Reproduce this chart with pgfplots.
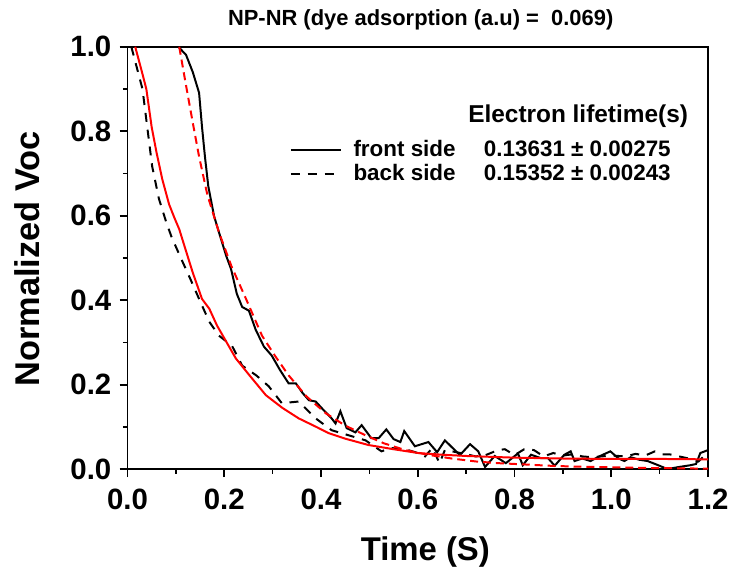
\documentclass[border=0pt]{standalone}
\usepackage{fontspec}
\setmainfont{Liberation Sans}
\usepackage{pgfplots}
\pgfplotsset{compat=1.18}
\begin{document}
\begin{tikzpicture}
\begin{axis}[
  at={(0,0)}, anchor=south west,
  scale only axis, width=583pt, height=424pt,
  xmin=0, xmax=1.2, ymin=0, ymax=1.0,
  xtick={0,0.2,0.4,0.6,0.8,1.0,1.2},
  ytick={0,0.2,0.4,0.6,0.8,1.0},
  minor xtick={0.1,0.3,0.5,0.7,0.9,1.1},
  minor ytick={0.1,0.3,0.5,0.7,0.9},
  xtick pos=bottom, ytick pos=left, tick align=outside,
  major tick length=8pt, minor tick length=4.5pt,
  line width=1.8pt,
  axis line style={line width=1.8pt},
  every tick/.style={line width=1.8pt, draw=black},
  every minor tick/.style={line width=1.5pt, draw=black},
  /pgf/number format/.cd, fixed, fixed zerofill, precision=1, assume math mode=true,
  /pgfplots/.cd,
  ticklabel style={font=\fontsize{29.5}{29.5}\selectfont\bfseries},
  xticklabel style={yshift=-8pt},
  yticklabel style={xshift=-4pt},
  xlabel={Time (S)},
  ylabel={Normalized Voc},
  xlabel style={font=\fontsize{33}{33}\selectfont\bfseries, at={(axis description cs:0.513,-0.196)}, anchor=center},
  ylabel style={font=\fontsize{34.5}{34.5}\selectfont\bfseries, at={(axis description cs:-0.172,0.498)}, anchor=center},
  title={NP-NR (dye adsorption (a.u) =\ \ 0.069)},
  title style={font=\fontsize{22}{22}\selectfont\bfseries, at={(axis description cs:0.505,1.049)}, anchor=center},
  legend image code/.code={\draw[#1] (0pt,0pt) -- (50pt,0pt);},
  legend style={draw=none, fill=none, at={(rel axis cs:0.278,0.785)}, anchor=north west,
    inner sep=0pt, row sep=0pt, column sep=0pt,
    font=\fontsize{22.5}{22.5}\selectfont\bfseries,
    nodes={inner xsep=7pt, inner ysep=1pt, text height=17pt, text depth=5pt}},
  legend cell align=left,
]
% front side data (black solid)
\addplot[black, line width=2pt] coordinates {
(0.105,1.000) (0.121,0.981) (0.135,0.940) (0.148,0.891) (0.154,0.811) (0.160,0.741)
(0.167,0.670) (0.179,0.599) (0.189,0.561) (0.204,0.505) (0.214,0.474) (0.226,0.415)
(0.237,0.384) (0.251,0.375) (0.265,0.330) (0.282,0.290) (0.298,0.269) (0.315,0.235)
(0.333,0.203) (0.348,0.203) (0.362,0.180) (0.375,0.163) (0.389,0.160) (0.405,0.140)
(0.422,0.120) (0.430,0.108) (0.440,0.137) (0.453,0.097) (0.471,0.087) (0.484,0.104)
(0.504,0.073) (0.519,0.073) (0.535,0.094) (0.550,0.071) (0.564,0.064) (0.572,0.090)
(0.594,0.054) (0.622,0.064) (0.640,0.040) (0.656,0.068) (0.672,0.050) (0.687,0.033)
(0.708,0.059) (0.725,0.042) (0.739,0.005) (0.759,0.031) (0.782,0.014) (0.807,0.037)
(0.817,0.009) (0.834,0.034) (0.854,0.026) (0.869,0.026) (0.883,0.008) (0.903,0.034)
(0.916,0.042) (0.924,0.019) (0.940,0.025) (0.957,0.019) (0.975,0.030) (0.998,0.042)
(1.015,0.025) (1.027,0.019) (1.040,0.028) (1.058,0.022) (1.075,0.019) (1.095,0.010)
(1.116,0.000) (1.140,0.005) (1.163,0.009) (1.175,0.012) (1.184,0.038) (1.200,0.045)
};
\addlegendentry{\hspace{5pt}\makebox[131pt][l]{front side}0.13631 ± 0.00275}
% back side data (black dashed)
\addplot[black, line width=2pt, dash pattern=on 9pt off 8pt] coordinates {
(0.008,1.000) (0.031,0.900) (0.051,0.717) (0.065,0.640) (0.080,0.585) (0.091,0.550)
(0.111,0.498) (0.130,0.450) (0.148,0.403) (0.169,0.349) (0.189,0.316) (0.216,0.292)
(0.237,0.245) (0.266,0.222) (0.292,0.196) (0.319,0.156) (0.354,0.160) (0.389,0.120)
(0.422,0.092) (0.457,0.080) (0.492,0.068) (0.525,0.042) (0.545,0.050) (0.560,0.048)
(0.580,0.045) (0.600,0.038) (0.615,0.030) (0.630,0.050) (0.645,0.014) (0.656,0.045)
(0.680,0.040) (0.700,0.035) (0.720,0.030) (0.740,0.033) (0.766,0.045) (0.780,0.047)
(0.800,0.033) (0.820,0.047) (0.840,0.045) (0.860,0.030) (0.880,0.038) (0.900,0.032)
(0.920,0.035) (0.940,0.030) (0.960,0.028) (0.980,0.030) (1.000,0.032) (1.030,0.030)
(1.050,0.036) (1.070,0.032) (1.090,0.042) (1.105,0.035) (1.120,0.035) (1.140,0.030)
(1.160,0.025) (1.180,0.018) (1.200,0.040)
};
\addlegendentry{\hspace{5pt}\makebox[131pt][l]{back side}0.15352 ± 0.00243}
% fit for back side (red solid)
\addplot[red, line width=2pt, forget plot] coordinates {
(0.016,1.000) (0.030,0.940) (0.039,0.900) (0.050,0.810) (0.060,0.750) (0.072,0.686)
(0.086,0.627) (0.097,0.595) (0.107,0.568) (0.120,0.520) (0.135,0.465) (0.154,0.403)
(0.169,0.380) (0.185,0.340) (0.204,0.302) (0.224,0.262) (0.250,0.225) (0.286,0.175)
(0.320,0.145) (0.354,0.120) (0.390,0.100) (0.416,0.085) (0.450,0.072) (0.498,0.057)
(0.550,0.047) (0.601,0.038) (0.650,0.034) (0.700,0.031) (0.750,0.029) (0.800,0.027)
(0.900,0.025) (1.000,0.024) (1.100,0.024) (1.200,0.023)
};
% fit for front side (red dashed)
\addplot[red, line width=2pt, dash pattern=on 8pt off 5pt, forget plot] coordinates {
(0.107,1.000) (0.120,0.915) (0.135,0.820) (0.148,0.740) (0.165,0.650) (0.189,0.561)
(0.215,0.480) (0.245,0.403) (0.278,0.316) (0.305,0.268) (0.333,0.222) (0.370,0.172)
(0.410,0.132) (0.450,0.103) (0.492,0.080) (0.530,0.061) (0.574,0.045) (0.620,0.034)
(0.670,0.025) (0.720,0.018) (0.766,0.014) (0.820,0.011) (0.870,0.008) (0.920,0.006)
(0.970,0.005) (1.050,0.003) (1.120,0.002) (1.200,0.001)
};
\node[anchor=base east, font=\fontsize{24.5}{24.5}\selectfont\bfseries] at (rel axis cs:0.9726,0.821) {Electron lifetime(s)};
\end{axis}
\pgfresetboundingbox
\path[use as bounding box] (-128pt,-98pt) rectangle (605pt,471pt);
\end{tikzpicture}
\end{document}
